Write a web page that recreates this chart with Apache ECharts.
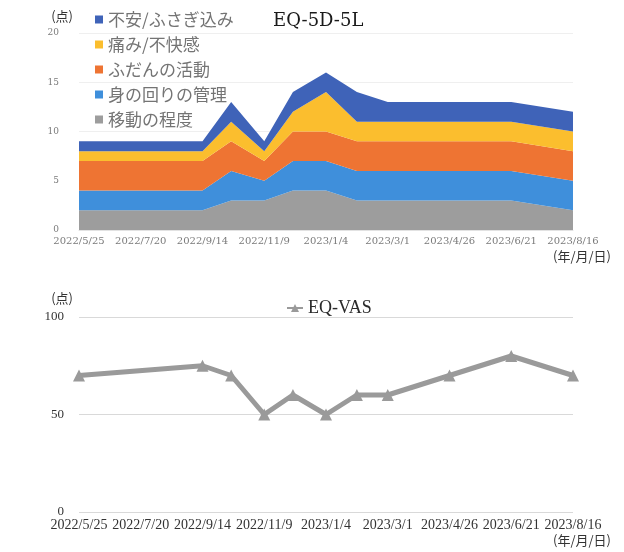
<!DOCTYPE html>
<html>
<head>
<meta charset="utf-8">
<script src="https://cdn.jsdelivr.net/npm/echarts@6/dist/echarts.min.js"></script>
<style>
  html, body { margin: 0; padding: 0; background: #ffffff; }
  #chart { width: 624px; height: 552px; }
</style>
</head>
<body>
<div id="chart"></div>
<script>
// Visit dates (shared by both panels)
const visitDates = ['2022/5/25', '2022/9/14', '2022/10/10', '2022/11/9', '2022/12/5',
  '2023/1/4', '2023/2/1', '2023/3/1', '2023/4/26', '2023/6/21', '2023/8/16'];

// EQ-5D-5L dimension levels (stacked, bottom to top)
const mobility = [2, 2, 3, 3, 4, 4, 3, 3, 3, 3, 2];        // 移動の程度
const selfCare = [2, 2, 3, 2, 3, 3, 3, 3, 3, 3, 3];        // 身の回りの管理
const usualActivities = [3, 3, 3, 2, 3, 3, 3, 3, 3, 3, 3]; // ふだんの活動
const painDiscomfort = [1, 1, 2, 1, 2, 4, 2, 2, 2, 2, 2];  // 痛み/不快感
const anxietyDepression = [1, 1, 2, 1, 2, 2, 3, 2, 2, 2, 2]; // 不安/ふさぎ込み

// EQ-VAS scores
const vasScores = [70, 75, 70, 50, 60, 50, 60, 60, 70, 80, 70];

// Date axis: first and last tick, tick spacing in days
const axisStart = '2022/5/25';
const axisEnd = '2023/8/16';
const tickDays = 56;
const eq5dTicks = [0, 5, 10, 15, 20];
const vasTicks = [0, 50, 100];

const DAY = 86400000;
function toUTC(s) {
  const p = s.split('/').map(Number);
  return Date.UTC(p[0], p[1] - 1, p[2]);
}
const t0 = toUTC(axisStart);
const spanDays = (toUTC(axisEnd) - t0) / DAY;
function dayOffset(s) { return (toUTC(s) - t0) / DAY; }
function dayLabel(v) {
  const d = new Date(t0 + Math.round(v) * DAY);
  return d.getUTCFullYear() + '/' + (d.getUTCMonth() + 1) + '/' + d.getUTCDate();
}
// rows are [value, day]; encode maps them to y and x so the value column is the stacked one
function rows(arr) { return visitDates.map((d, i) => [arr[i], dayOffset(d)]); }

const serif = '"Liberation Serif", "DejaVu Serif", serif';
const wideSerif = '"DejaVu Serif", serif';
const jp = '"Noto Sans CJK JP", sans-serif';

const layers = [
  { name: '移動の程度', data: mobility, color: '#9d9d9d' },
  { name: '身の回りの管理', data: selfCare, color: '#3f8fdb' },
  { name: 'ふだんの活動', data: usualActivities, color: '#ee7433' },
  { name: '痛み/不快感', data: painDiscomfort, color: '#fbbe2e' },
  { name: '不安/ふさぎ込み', data: anxietyDepression, color: '#3f63b8' }
];

const chart = echarts.init(document.getElementById('chart'), null, { renderer: 'canvas' });

function dateAxis(gridIndex, labelStyle, lineStyle, namePad) {
  return {
    type: 'value',
    gridIndex: gridIndex,
    min: 0,
    max: spanDays,
    interval: tickDays,
    splitLine: { show: false },
    axisTick: { show: false },
    axisLine: lineStyle ? { show: true, lineStyle: lineStyle } : { show: false },
    axisLabel: Object.assign({ formatter: dayLabel, margin: 6 }, labelStyle),
    name: '(年/月/日)',
    nameLocation: 'end',
    nameGap: 38,
    nameTextStyle: {
      fontFamily: jp, fontSize: 13, color: '#333', align: 'right', verticalAlign: 'top',
      padding: [namePad, 0, 0, 0]
    }
  };
}

chart.setOption({
  animation: false,
  backgroundColor: '#ffffff',
  title: {
    text: 'EQ-5D-5L',
    left: 268,
    top: 7,
    textStyle: { fontFamily: wideSerif, fontSize: 18, fontWeight: 'normal', color: '#1a1a1a' }
  },
  legend: [
    {
      orient: 'vertical',
      left: 90,
      top: 6,
      itemGap: 8,
      itemWidth: 8,
      itemHeight: 8,
      icon: 'rect',
      data: ['不安/ふさぎ込み', '痛み/不快感', 'ふだんの活動', '身の回りの管理', '移動の程度'],
      textStyle: { fontFamily: jp, fontSize: 17, color: '#747474' }
    },
    {
      left: 281,
      top: 294,
      itemWidth: 16,
      itemHeight: 10,
      itemGap: 4,
      data: ['EQ-VAS'],
      textStyle: { fontFamily: serif, fontSize: 18, color: '#2a2a2a' }
    }
  ],
  grid: [
    { left: 79, right: 51, top: 33, height: 197 },
    { left: 79, right: 51, top: 317, height: 195 }
  ],
  xAxis: [
    dateAxis(0, { fontFamily: wideSerif, fontSize: 10, color: '#7a7a7a' },
      { color: '#e2e2e2', width: 1 }, 20),
    dateAxis(1, { fontFamily: serif, fontSize: 14, color: '#333' }, null, 22)
  ],
  yAxis: [
    {
      type: 'value',
      gridIndex: 0,
      min: eq5dTicks[0],
      max: eq5dTicks[eq5dTicks.length - 1],
      interval: eq5dTicks[1] - eq5dTicks[0],
      axisLine: { show: false },
      axisTick: { show: false },
      splitLine: { show: true, lineStyle: { color: '#efefef', width: 1 } },
      axisLabel: { margin: 20, fontFamily: wideSerif, fontSize: 9, color: '#7a7a7a' },
      name: '(点)',
      nameLocation: 'end',
      nameGap: 10,
      nameTextStyle: { fontFamily: jp, fontSize: 13, color: '#333', align: 'right', padding: [0, 6, 0, 0] }
    },
    {
      type: 'value',
      gridIndex: 1,
      min: vasTicks[0],
      max: vasTicks[vasTicks.length - 1],
      interval: vasTicks[1] - vasTicks[0],
      axisLine: { show: false },
      axisTick: { show: false },
      splitLine: { show: true, lineStyle: { color: '#d9d9d9', width: 1 } },
      axisLabel: { margin: 15, fontFamily: serif, fontSize: 13, color: '#333' },
      name: '(点)',
      nameLocation: 'end',
      nameGap: 12,
      nameTextStyle: { fontFamily: jp, fontSize: 13, color: '#333', align: 'right', padding: [0, 6, 0, 0] }
    }
  ],
  series: layers.map(l => ({
    name: l.name,
    type: 'line',
    xAxisIndex: 0,
    yAxisIndex: 0,
    stack: 'eq5d',
    symbol: 'none',
    encode: { x: 1, y: 0 },
    lineStyle: { width: 0 },
    areaStyle: { color: l.color, opacity: 1 },
    itemStyle: { color: l.color },
    data: rows(l.data)
  })).concat([{
    name: 'EQ-VAS',
    type: 'line',
    xAxisIndex: 1,
    yAxisIndex: 1,
    symbol: 'triangle',
    symbolSize: 12,
    encode: { x: 1, y: 0 },
    lineStyle: { color: '#9a9a9a', width: 5 },
    itemStyle: { color: '#9a9a9a' },
    data: rows(vasScores)
  }])
});
</script>
</body>
</html>
